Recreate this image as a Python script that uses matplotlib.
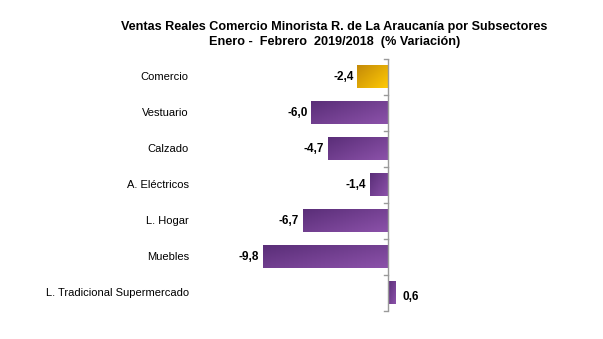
import matplotlib
matplotlib.use("Agg")
import matplotlib.pyplot as plt
import numpy as np
from matplotlib.colors import LinearSegmentedColormap
from matplotlib.patches import Rectangle

categories = ["Comercio", "Vestuario", "Calzado", "A. Eléctricos", "L. Hogar",
              "Muebles", "L. Tradicional Supermercado"]
values = [-2.4, -6.0, -4.7, -1.4, -6.7, -9.8, 0.6]
value_labels = ["-2,4", "-6,0", "-4,7", "-1,4", "-6,7", "-9,8", "0,6"]
title_line1 = "Ventas Reales Comercio Minorista R. de La Araucanía por Subsectores"
title_line2 = "Enero -  Febrero  2019/2018  (% Variación)"

plt.rcParams['font.family'] = ['Liberation Sans', 'DejaVu Sans']

W, H = 603, 339
fig = plt.figure(figsize=(W / 100, H / 100), dpi=100)
ax_l, ax_r = 200, 450
ax_top, ax_bot = 58.5, 310.5
ax = fig.add_axes([ax_l / W, 1 - ax_bot / H, (ax_r - ax_l) / W, (ax_bot - ax_top) / H])

px_per_unit = (388 - 263) / 9.8
n = len(categories)

purple = LinearSegmentedColormap.from_list("p", ["#5a2e78", "#8c52aa"])
gold = LinearSegmentedColormap.from_list("g", ["#c48a08", "#ffca05"])

bar_h = 0.62
yy, xx = np.mgrid[0:1:50j, 0:1:200j]
grad = 0.55 * xx + 0.45 * yy
for i, v in enumerate(values):
    cmap = gold if i == 0 else purple
    x0, x1 = min(0, v), max(0, v)
    y0, y1 = i - bar_h / 2, i + bar_h / 2
    rect = Rectangle((x0, y0), x1 - x0, y1 - y0, facecolor="none", edgecolor="none")
    ax.add_patch(rect)
    im = ax.imshow(grad, cmap=cmap, extent=(x0, x1, y1, y0), aspect="auto",
                   origin="upper", interpolation="bilinear", zorder=2)
    im.set_clip_path(rect)
    if v < 0:
        ax.text(v - 0.3, i, value_labels[i], ha="right", va="center",
                fontsize=8.5, fontweight="bold", color="black")
    else:
        ax.text(v + 0.5, i + 0.12, value_labels[i], ha="left", va="center",
                fontsize=8.5, fontweight="bold", color="black")
    ax.text(-0.045, i, categories[i], ha="right", va="center", fontsize=8,
            color="black", transform=ax.get_yaxis_transform())

ax.set_xlim((ax_l - 388) / px_per_unit, (ax_r - 388) / px_per_unit)
ax.set_ylim(n - 0.5, -0.5)

for s in ["top", "right", "bottom", "left"]:
    ax.spines[s].set_visible(False)
ax.axvline(0, color="#9a9a9a", lw=1.0, zorder=3)
for b in np.arange(-0.5, n + 0.5, 1.0):
    ax.plot([-0.35, 0], [b, b], color="#9a9a9a", lw=1.0, zorder=3, clip_on=False)
ax.set_xticks([])
ax.set_yticks([])

fig.text(334.5 / W, 1 - 27 / H, title_line1, ha="center", va="center",
         fontsize=9.1, fontweight="bold")
fig.text(334.5 / W, 1 - 41.5 / H, title_line2, ha="center", va="center",
         fontsize=9.1, fontweight="bold")

fig.savefig("out.png", dpi=100)
